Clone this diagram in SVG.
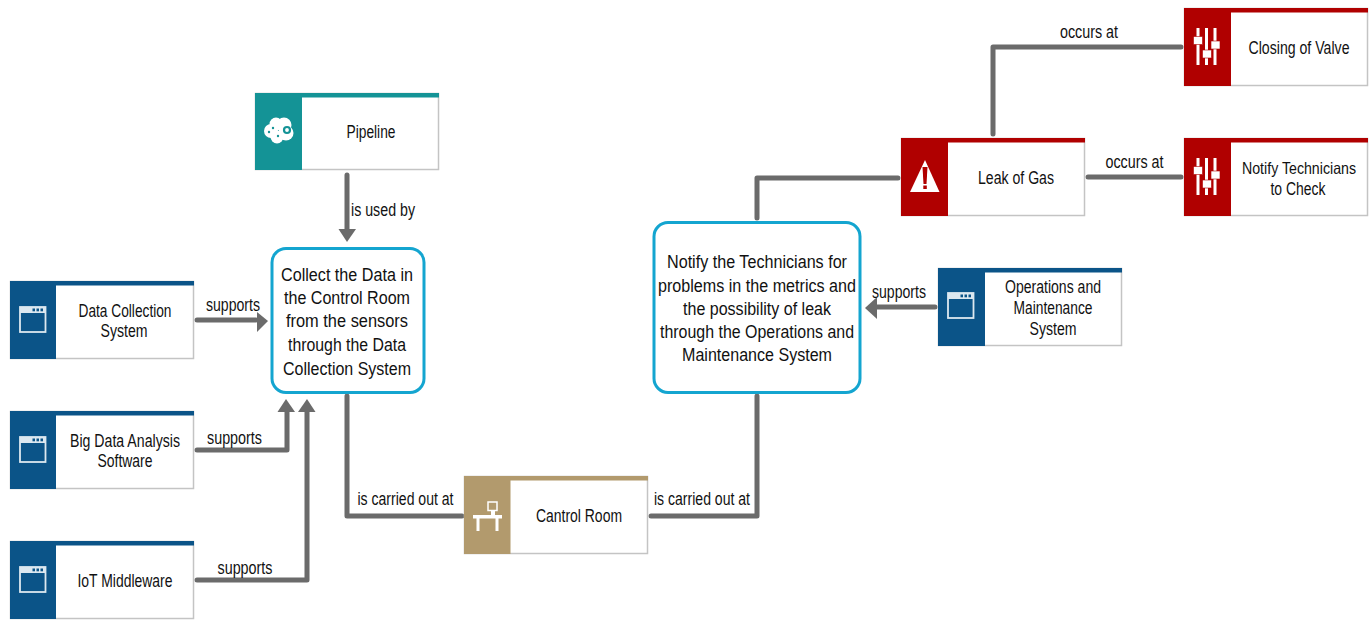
<svg xmlns="http://www.w3.org/2000/svg" width="1372" height="620" viewBox="0 0 1372 620">
<style>
text{font-family:"Liberation Sans",Arial,sans-serif;font-size:17.5px;fill:#111;text-anchor:middle}
text.s{font-size:16.5px}
.body{fill:#fff;stroke:#c4c4c4;stroke-width:1.5}
.c{fill:none;stroke:#6b6b6b;stroke-width:5;stroke-linecap:round;stroke-linejoin:round}
.h{fill:#6b6b6b}
.task{fill:#fff;stroke:#14a5d0;stroke-width:3}
.w{fill:#fff}
.blue{fill:#0b5488}.red{fill:#b00000}.teal{fill:#149396}.tan{fill:#b29a6d}
</style>
<defs>
<g id="app"><rect x="10" y="28" width="25.500" height="25" fill="none" stroke="#dce8f0" stroke-width="1.800"/><rect x="10" y="28" width="25.500" height="6" fill="#dce8f0"/><rect x="22.500" y="29.500" width="2.500" height="2.800" fill="#0b5488"/><rect x="26.500" y="29.500" width="2.500" height="2.800" fill="#0b5488"/><rect x="30.500" y="29.500" width="2.500" height="2.800" fill="#0b5488"/></g>
<g id="sliders"><rect x="12.500" y="20" width="3" height="37" class="w"/><rect x="21" y="20" width="3" height="37" class="w"/><rect x="29.500" y="20" width="3" height="37" class="w"/><rect x="9.500" y="28.500" width="9" height="8" class="w" stroke="#b00000" stroke-width=".6"/><rect x="18.500" y="42" width="9" height="8" class="w" stroke="#b00000" stroke-width=".6"/><rect x="27" y="33" width="9" height="8" class="w" stroke="#b00000" stroke-width=".6"/></g>
</defs>
<g id="connectors">
<path class="c" d="M347 175V229"/><path class="h" d="M338.500 229H356L347 242Z"/>
<path class="c" d="M197 320H256"/><path class="h" d="M257 312L268 321L257 332Z"/>
<path class="c" d="M197 450H287V411"/><path class="h" d="M277.500 412H295L286 399Z"/>
<path class="c" d="M197 580H307V411"/><path class="h" d="M298 412H315.500L307 399Z"/>
<path class="c" d="M347 396V516H462"/>
<path class="c" d="M651 516H757V396"/>
<path class="c" d="M757 218V178H898"/>
<path class="c" d="M993 134V47H1181"/>
<path class="c" d="M1088 177H1181"/>
<path class="c" d="M935 307H877"/><path class="h" d="M877 297L865 308L877 319Z"/>
<text x="383" y="216" textLength="64" lengthAdjust="spacingAndGlyphs">is used by</text>
<text x="233" y="311" textLength="54" lengthAdjust="spacingAndGlyphs">supports</text>
<text x="234.500" y="444" textLength="55" lengthAdjust="spacingAndGlyphs">supports</text>
<text x="245" y="574" textLength="55" lengthAdjust="spacingAndGlyphs">supports</text>
<text x="405.500" y="505" textLength="96" lengthAdjust="spacingAndGlyphs">is carried out at</text>
<text x="702" y="505" textLength="96" lengthAdjust="spacingAndGlyphs">is carried out at</text>
<text x="899" y="298" textLength="54" lengthAdjust="spacingAndGlyphs">supports</text>
<text x="1089" y="38" textLength="58" lengthAdjust="spacingAndGlyphs">occurs at</text>
<text x="1134.500" y="168" textLength="58" lengthAdjust="spacingAndGlyphs">occurs at</text>
</g>
<g id="pipeline"><rect class="body" x="255.500" y="93.500" width="183" height="76"/><rect class="teal" x="255" y="93" width="184" height="4.500"/><rect class="teal" x="255" y="93" width="47" height="77"/>
<g class="w"><circle cx="271" cy="131" r="7"/><circle cx="276" cy="124" r="6.500"/><circle cx="284" cy="125" r="7.500"/><circle cx="286" cy="133" r="7.500"/><circle cx="277" cy="137" r="6.500"/></g><circle cx="287" cy="130" r="3" fill="none" stroke="#149396" stroke-width="2.200"/><circle cx="269" cy="132" r="1.200" fill="#149396"/><circle cx="273" cy="128" r="1.200" fill="#149396"/><circle cx="278" cy="136" r="1.200" fill="#149396"/>
<text x="371" y="138" textLength="49" lengthAdjust="spacingAndGlyphs">Pipeline</text></g>
<g id="data-collection"><rect class="body" x="10.500" y="281.500" width="183" height="77"/><rect class="blue" x="10" y="281" width="184" height="4.500"/><rect class="blue" x="10" y="281" width="46" height="78"/><use href="#app" x="10" y="279"/>
<text x="125" y="317" textLength="93" lengthAdjust="spacingAndGlyphs">Data Collection</text><text x="124" y="337" textLength="47" lengthAdjust="spacingAndGlyphs">System</text></g>
<g id="big-data"><rect class="body" x="10.500" y="411.500" width="183" height="77"/><rect class="blue" x="10" y="411" width="184" height="4.500"/><rect class="blue" x="10" y="411" width="46" height="78"/><use href="#app" x="10" y="409"/>
<text x="125" y="447" textLength="110" lengthAdjust="spacingAndGlyphs">Big Data Analysis</text><text x="125" y="467" textLength="55" lengthAdjust="spacingAndGlyphs">Software</text></g>
<g id="iot"><rect class="body" x="10.500" y="541.500" width="183" height="77"/><rect class="blue" x="10" y="541" width="184" height="4.500"/><rect class="blue" x="10" y="541" width="46" height="78"/><use href="#app" x="10" y="539"/>
<text x="125" y="587" textLength="95" lengthAdjust="spacingAndGlyphs">IoT Middleware</text></g>
<g id="collect"><rect class="task" x="272" y="248.500" width="152" height="144" rx="14"/>
<text x="347" y="281" textLength="132" lengthAdjust="spacingAndGlyphs">Collect the Data in</text><text x="347" y="304" textLength="126" lengthAdjust="spacingAndGlyphs">the Control Room</text><text x="347" y="327" textLength="122" lengthAdjust="spacingAndGlyphs">from the sensors</text><text x="347" y="351" textLength="118" lengthAdjust="spacingAndGlyphs">through the Data</text><text x="347" y="375" textLength="128" lengthAdjust="spacingAndGlyphs">Collection System</text></g>
<g id="notify-task"><rect class="task" x="654" y="222.500" width="206" height="170" rx="14"/>
<text x="757" y="268" textLength="180" lengthAdjust="spacingAndGlyphs">Notify the Technicians for</text><text x="757" y="292" textLength="198" lengthAdjust="spacingAndGlyphs">problems in the metrics and</text><text x="757" y="315" textLength="148" lengthAdjust="spacingAndGlyphs">the possibility of leak</text><text x="757" y="338" textLength="194" lengthAdjust="spacingAndGlyphs">through the Operations and</text><text x="757" y="361" textLength="150" lengthAdjust="spacingAndGlyphs">Maintenance System</text></g>
<g id="control-room"><rect class="body" x="464.500" y="476.500" width="183" height="77"/><rect class="tan" x="464" y="476" width="184" height="4.500"/><rect class="tan" x="464" y="476" width="46.500" height="78"/>
<rect x="473" y="515" width="29" height="3.500" class="w"/><rect x="476.500" y="518" width="3" height="13" class="w"/><rect x="495.500" y="518" width="3" height="13" class="w"/><rect x="488" y="502" width="9" height="8.500" fill="none" stroke="#fff" stroke-width="1.500"/><rect x="491" y="511" width="4" height="4" class="w"/>
<text x="579" y="522" textLength="86" lengthAdjust="spacingAndGlyphs">Cantrol Room</text></g>
<g id="operations"><rect class="body" x="938.500" y="268.500" width="183" height="77"/><rect class="blue" x="938" y="268" width="184" height="4.500"/><rect class="blue" x="938" y="268" width="47" height="78"/><use href="#app" x="938" y="265"/>
<text x="1053" y="293" textLength="96" lengthAdjust="spacingAndGlyphs">Operations and</text><text x="1053" y="314" textLength="79" lengthAdjust="spacingAndGlyphs">Maintenance</text><text x="1053" y="335" textLength="47" lengthAdjust="spacingAndGlyphs">System</text></g>
<g id="leak"><rect class="body" x="901.500" y="138.500" width="183" height="77"/><rect class="red" x="901" y="138" width="184" height="4.500"/><rect class="red" x="901" y="138" width="47" height="78"/>
<path class="w" d="M925 160L939.500 192H910Z"/><path fill="#b00000" d="M922.500 167H927.500L926.500 184H923.500Z"/><rect x="923.300" y="185.500" width="3.500" height="3.500" fill="#b00000"/>
<text x="1016" y="184" textLength="76" lengthAdjust="spacingAndGlyphs">Leak of Gas</text></g>
<g id="closing"><rect class="body" x="1184.500" y="8.500" width="183" height="77"/><rect class="red" x="1184" y="8" width="184" height="4.500"/><rect class="red" x="1184" y="8" width="47" height="78"/><use href="#sliders" x="1184" y="8"/>
<text x="1299" y="54" textLength="101" lengthAdjust="spacingAndGlyphs">Closing of Valve</text></g>
<g id="notify-check"><rect class="body" x="1184.500" y="138.500" width="183" height="77"/><rect class="red" x="1184" y="138" width="184" height="4.500"/><rect class="red" x="1184" y="138" width="47" height="78"/><use href="#sliders" x="1184" y="138"/>
<text class="s" x="1299" y="174" textLength="114" lengthAdjust="spacingAndGlyphs">Notify Technicians</text><text x="1298" y="195" textLength="55" lengthAdjust="spacingAndGlyphs">to Check</text></g>
</svg>
